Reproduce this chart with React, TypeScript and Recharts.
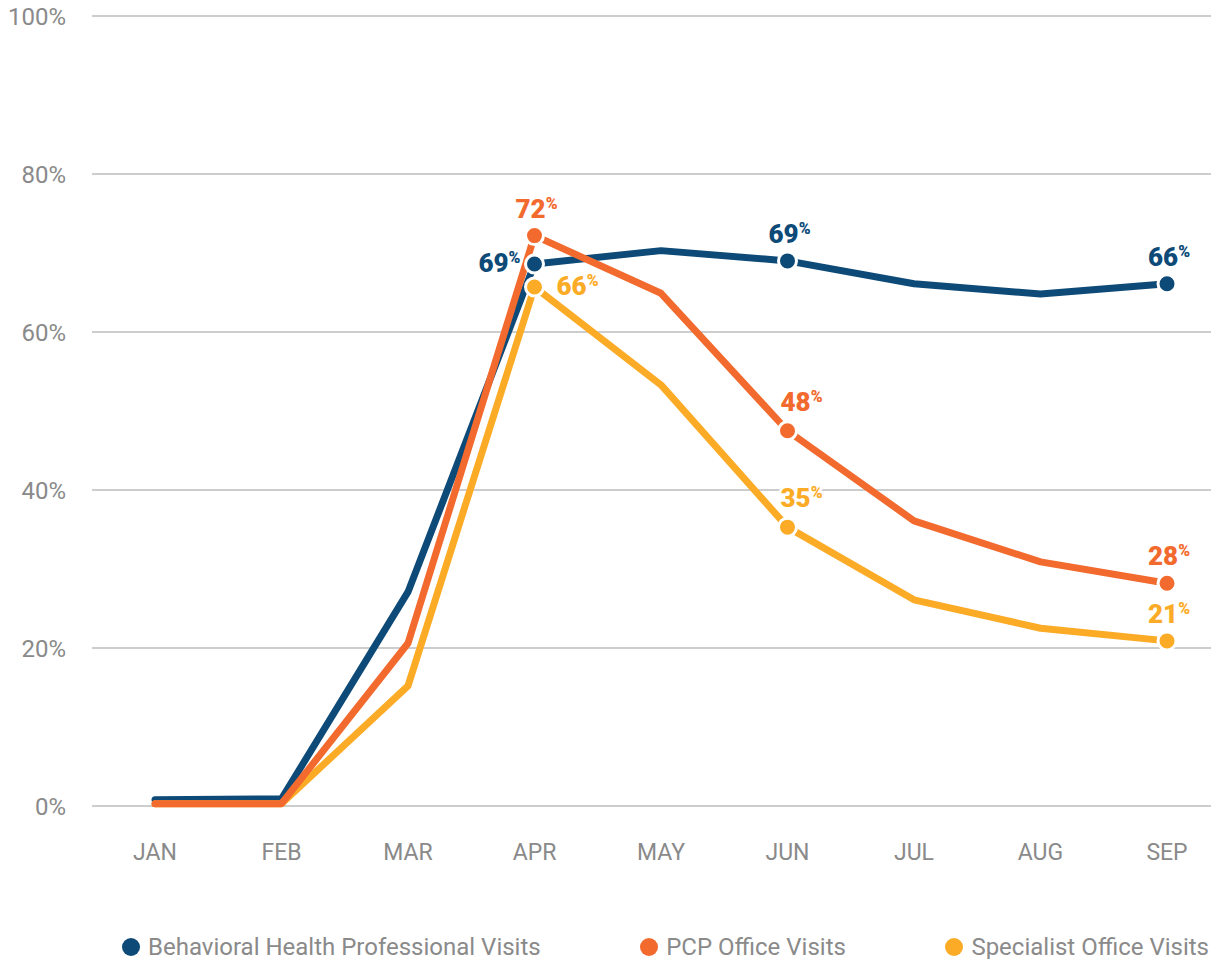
import React from "react"
import { LineChart, Line, XAxis, YAxis, CartesianGrid, Legend, LabelList } from "recharts"

const months = ["JAN", "FEB", "MAR", "APR", "MAY", "JUN", "JUL", "AUG", "SEP"]
const behavioral = [0.8, 0.9, 27.1, 68.6, 70.3, 69.0, 66.1, 64.8, 66.1]
const pcp = [0.3, 0.3, 20.6, 72.2, 64.9, 47.5, 36.1, 30.9, 28.2]
const specialist = [0.3, 0.3, 15.2, 65.7, 53.3, 35.3, 26.1, 22.5, 20.9]
const yTicks = [0, 20, 40, 60, 80, 100]
const markedIdx = [3, 5, 8]

const NAVY = "#0d4a77"
const ORANGE = "#f26a2d"
const YELLOW = "#fbab26"
const GRAY = "#8a8a8a"
const FONT = "Roboto, 'Noto Sans', sans-serif"

const data = months.map((m, i) => ({
  month: m,
  behavioral: behavioral[i],
  pcp: pcp[i],
  specialist: specialist[i],
}))

const series = [
  { key: "behavioral", name: "Behavioral Health Professional Visits", color: NAVY, place: { 3: "left", 5: "top", 8: "top" } },
  { key: "specialist", name: "Specialist Office Visits", color: YELLOW, place: { 3: "right", 5: "topright", 8: "top" } },
  { key: "pcp", name: "PCP Office Visits", color: ORANGE, place: { 3: "top", 5: "topright", 8: "top" } },
]
const legendOrder = ["behavioral", "pcp", "specialist"]

function makeDot(color: string) {
  return (props: any) => {
    const { cx, cy, index } = props
    if (!markedIdx.includes(index)) return <g key={index} />
    return <circle key={index} cx={cx} cy={cy} r={9} fill={color} stroke="#fff" strokeWidth={3} />
  }
}

function makeLabel(color: string, place: Record<number, string>) {
  return (props: any) => {
    const { x, y, value, index } = props
    if (!markedIdx.includes(index)) return null
    const pos = place[index]
    let tx = x + 2
    let ty = y - 18
    let anchor: "middle" | "start" | "end" = "middle"
    if (pos === "left") {
      tx = x - 14
      ty = y + 8
      anchor = "end"
    } else if (pos === "right") {
      tx = x + 22
      ty = y + 8
      anchor = "start"
    } else if (pos === "topright") {
      tx = x + 14
      ty = y - 20
    }
    return (
      <text x={tx} y={ty} textAnchor={anchor} fill={color} fontFamily={FONT} fontWeight={900} fontSize={26}
        stroke="#fff" strokeWidth={5} paintOrder="stroke">
        {Math.round(value)}
        <tspan fontSize={16} dy={-9}>%</tspan>
      </text>
    )
  }
}

function LegendContent() {
  return (
    <div style={{ height: 89, display: "flex", alignItems: "flex-end", justifyContent: "space-between", paddingLeft: 122, paddingRight: 10, boxSizing: "border-box" }}>
      {legendOrder.map((k) => {
        const s = series.find((x) => x.key === k)!
        return (
          <div key={k} style={{ display: "flex", alignItems: "center", fontFamily: FONT, fontSize: 24, color: GRAY, lineHeight: "28px", marginBottom: -2 }}>
            <span style={{ width: 18, height: 18, borderRadius: "50%", background: s.color, display: "inline-block", marginRight: 8 }} />
            {s.name}
          </div>
        )
      })}
    </div>
  )
}

export default function App() {
  return (
    <div style={{ marginLeft: -8, marginTop: -8, width: 1219, height: 959, background: "#fff" }}>
      <LineChart width={1219} height={959} data={data} margin={{ top: 16, right: 0, bottom: 0, left: 0 }}>
        <CartesianGrid vertical={false} stroke="#bdbdbd" strokeWidth={1.5} />
        <XAxis dataKey="month" axisLine={false} tickLine={false} height={64} tickMargin={32}
          padding={{ left: 63, right: 52 }}
          tick={{ fill: GRAY, fontSize: 23, fontFamily: FONT }} />
        <YAxis domain={[0, 100]} ticks={yTicks} width={92} axisLine={false} tickLine={false}
          tickFormatter={(v) => `${v}%`} tickMargin={20}
          tick={{ fill: GRAY, fontSize: 24, fontFamily: FONT }} />
        <Legend verticalAlign="bottom" height={89} content={<LegendContent />} />
        {series.map((s) => (
          <Line key={s.key} type="linear" dataKey={s.key} name={s.name} stroke={s.color} strokeWidth={7}
            strokeLinecap="round" strokeLinejoin="round" dot={makeDot(s.color)} activeDot={false}
            isAnimationActive={false}>
            <LabelList dataKey={s.key} content={makeLabel(s.color, s.place)} />
          </Line>
        ))}
      </LineChart>
    </div>
  )
}
